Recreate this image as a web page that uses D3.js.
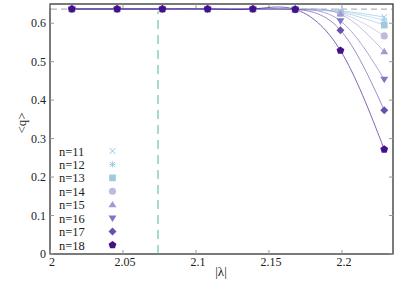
<!DOCTYPE html>
<html>
<head>
<meta charset="utf-8">
<script src="https://cdn.jsdelivr.net/npm/d3@7"></script>
<style>
  body { margin: 0; background: #fff; }
  svg text { font-family: "Liberation Serif", "DejaVu Serif", serif; }
</style>
</head>
<body>
<div id="chart"></div>
<script>
// data
var lambda = [2.015, 2.046, 2.077, 2.108, 2.139, 2.168, 2.199, 2.229];
var sizes = [11, 12, 13, 14, 15, 16, 17, 18];
var q11 = [0.637, 0.637, 0.637, 0.637, 0.637, 0.636, 0.632, 0.616];
var q12 = [0.637, 0.637, 0.637, 0.637, 0.637, 0.636, 0.630, 0.608];
var q13 = [0.637, 0.637, 0.637, 0.637, 0.637, 0.636, 0.628, 0.595];
var q14 = [0.637, 0.637, 0.637, 0.637, 0.637, 0.636, 0.626, 0.567];
var q15 = [0.637, 0.637, 0.637, 0.637, 0.637, 0.636, 0.624, 0.526];
var q16 = [0.637, 0.637, 0.637, 0.637, 0.637, 0.636, 0.606, 0.454];
var q17 = [0.637, 0.637, 0.637, 0.637, 0.637, 0.636, 0.582, 0.374];
var q18 = [0.637, 0.637, 0.637, 0.637, 0.637, 0.636, 0.529, 0.272];
var series = [q11, q12, q13, q14, q15, q16, q17, q18];
var xTicks = [2, 2.05, 2.1, 2.15, 2.2];
var yTicks = [0, 0.1, 0.2, 0.3, 0.4, 0.5, 0.6];
var qLimit = 2 / Math.PI;
var lambdaC = 2.074;

var colors = ["#8fc3e8", "#9fcfea", "#9ecae1", "#bcbbe0", "#a09bd0", "#7f76c4", "#6a4fac", "#45118a"];
var shapes = ["x", "star", "square", "circle", "up", "down", "diamond", "pentagon"];

var W = 405, H = 286;
var margin = {top: 4, right: 12, bottom: 32, left: 50};

var x = d3.scaleLinear().domain([2, 2.235]).range([margin.left, W - margin.right]);
var y = d3.scaleLinear().domain([0, 0.65]).range([H - margin.bottom, margin.top]);

var svg = d3.select("#chart").append("svg")
  .attr("width", W)
  .attr("height", H);

var pentagon = {
  draw: function(ctx, size) {
    var r = Math.sqrt(size / 2.38);
    for (var i = 0; i < 5; i++) {
      var a = -Math.PI / 2 + i * 2 * Math.PI / 5;
      if (i == 0) ctx.moveTo(r * Math.cos(a), r * Math.sin(a));
      else ctx.lineTo(r * Math.cos(a), r * Math.sin(a));
    }
    ctx.closePath();
  }
};
var xmark = {
  draw: function(ctx, size) {
    var r = Math.sqrt(size) / 2;
    ctx.moveTo(-r, -r); ctx.lineTo(r, r);
    ctx.moveTo(-r, r); ctx.lineTo(r, -r);
  }
};
var star = {
  draw: function(ctx, size) {
    var r = Math.sqrt(size) / 2;
    ctx.moveTo(-r, -r); ctx.lineTo(r, r);
    ctx.moveTo(-r, r); ctx.lineTo(r, -r);
    ctx.moveTo(0, -r * 1.2); ctx.lineTo(0, r * 1.2);
    ctx.moveTo(-r * 1.2, 0); ctx.lineTo(r * 1.2, 0);
  }
};
var diamond = {
  draw: function(ctx, size) {
    var r = Math.sqrt(size / 2);
    ctx.moveTo(0, -r); ctx.lineTo(r, 0); ctx.lineTo(0, r); ctx.lineTo(-r, 0);
    ctx.closePath();
  }
};
var tri = function(down) {
  return {
    draw: function(ctx, size) {
      var h = Math.sqrt(size * 1.2), s = down ? -1 : 1;
      ctx.moveTo(0, -s * h * 0.6);
      ctx.lineTo(h * 0.62, s * h * 0.4);
      ctx.lineTo(-h * 0.62, s * h * 0.4);
      ctx.closePath();
    }
  };
};

function marker(g, shape, color) {
  var sym, size = 40, stroked = false;
  if (shape == "x") { sym = xmark; size = 34; stroked = true; }
  else if (shape == "star") { sym = star; size = 26; stroked = true; }
  else if (shape == "square") { sym = d3.symbolSquare; size = 44; }
  else if (shape == "circle") { sym = d3.symbolCircle; size = 40; }
  else if (shape == "up") { sym = tri(false); size = 34; }
  else if (shape == "down") { sym = tri(true); size = 34; }
  else if (shape == "diamond") { sym = diamond; size = 32; }
  else { sym = pentagon; size = 40; }
  var p = g.append("path").attr("d", d3.symbol().type(sym).size(size)());
  if (stroked) p.attr("fill", "none").attr("stroke", color).attr("stroke-width", 1);
  else p.attr("fill", color);
}

// frame
svg.append("rect")
  .attr("x", margin.left).attr("y", margin.top)
  .attr("width", W - margin.left - margin.right)
  .attr("height", H - margin.top - margin.bottom)
  .attr("fill", "none").attr("stroke", "#333").attr("stroke-width", 1.3);

// ticks (inward, mirrored)
var tk = 4;
xTicks.forEach(function(v) {
  svg.append("line").attr("x1", x(v)).attr("x2", x(v))
    .attr("y1", y(0)).attr("y2", y(0) - tk).attr("stroke", "#999");
  svg.append("line").attr("x1", x(v)).attr("x2", x(v))
    .attr("y1", y(0.65)).attr("y2", y(0.65) + tk).attr("stroke", "#999");
  svg.append("text").attr("x", x(v) + 2).attr("y", 266)
    .attr("text-anchor", "middle").attr("font-size", 12).attr("fill", "#222").text(v);
});
yTicks.forEach(function(v) {
  svg.append("line").attr("x1", x(2)).attr("x2", x(2) + tk)
    .attr("y1", y(v)).attr("y2", y(v)).attr("stroke", "#999");
  svg.append("line").attr("x1", x(2.235)).attr("x2", x(2.235) - tk)
    .attr("y1", y(v)).attr("y2", y(v)).attr("stroke", "#999");
  svg.append("text").attr("x", 46).attr("y", y(v) + 4)
    .attr("text-anchor", "end").attr("font-size", 12).attr("fill", "#222").text(v);
});

// reference lines
svg.append("line")
  .attr("x1", x(2) + 1).attr("x2", x(2.235) - 1)
  .attr("y1", y(qLimit)).attr("y2", y(qLimit))
  .attr("stroke", "#b5b5b5").attr("stroke-width", 1.2).attr("stroke-dasharray", "6,4");
svg.append("line")
  .attr("x1", x(lambdaC)).attr("x2", x(lambdaC))
  .attr("y1", y(0)).attr("y2", y(qLimit) + 2)
  .attr("stroke", "#4fb894").attr("stroke-width", 1).attr("stroke-dasharray", "9,6");

// curves
var line = d3.line()
  .x(function(d, i) { return x(lambda[i]); })
  .y(function(d) { return y(d); })
  .curve(d3.curveNatural);

series.forEach(function(s, k) {
  svg.append("path").datum(s)
    .attr("d", line)
    .attr("fill", "none")
    .attr("stroke", colors[k])
    .attr("stroke-opacity", 0.65)
    .attr("stroke-width", 1);
});

// markers
series.forEach(function(s, k) {
  s.forEach(function(v, i) {
    var g = svg.append("g").attr("transform", "translate(" + x(lambda[i]) + "," + y(v) + ")");
    marker(g, shapes[k], colors[k]);
  });
});

// legend
sizes.forEach(function(n, k) {
  var yy = 151 + k * 13.43;
  svg.append("text").attr("x", 59).attr("y", yy + 4.5)
    .attr("font-size", 12.5).attr("fill", "#222").text("n=" + n);
  var g = svg.append("g").attr("transform", "translate(112.5," + yy + ")");
  marker(g, shapes[k], colors[k]);
});

// axis titles
svg.append("text").attr("x", 221).attr("y", 276)
  .attr("text-anchor", "middle").attr("font-size", 13).attr("fill", "#222").text("|λ|");
svg.append("text")
  .attr("transform", "translate(26,123) rotate(-90)")
  .attr("text-anchor", "middle").attr("font-size", 13).attr("fill", "#222").text("<q>");
</script>
</body>
</html>
